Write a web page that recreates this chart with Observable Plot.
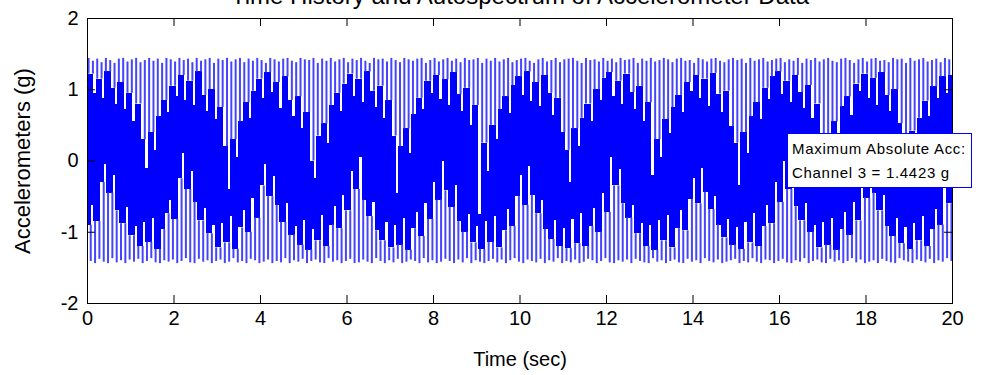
<!DOCTYPE html>
<html><head><meta charset="utf-8">
<script src="https://cdn.jsdelivr.net/npm/d3@7"></script>
<script src="https://cdn.jsdelivr.net/npm/@observablehq/plot@0.6"></script>
<style>
body{margin:0;background:#fff;}
#wrap{position:relative;width:1000px;height:375px;overflow:hidden;background:#fff;}
#note{position:absolute;left:787px;top:133px;width:185px;height:55px;border:1px solid #0000ff;background:#fff;
font-family:"Liberation Sans",Arial,sans-serif;font-size:15px;letter-spacing:0.7px;color:#000;padding:3px 0 0 4px;box-sizing:border-box;line-height:24px;white-space:nowrap;}
</style></head><body><div id="wrap"></div>
<script>
const title = "Time History and Autospectrum of Accelerometer Data";
const xLabel = "Time (sec)";
const yLabel = "Accelerometers (g)";
const noteLines = ["Maximum Absolute Acc:", "Channel 3 = 1.4423 g"];
const xTicks = [0,2,4,6,8,10,12,14,16,18,20];
const yTicks = [-2,-1,0,1,2];
const dt = 0.1; // seconds per bin

const peaks = [
1.44,1.40,1.43,1.38,1.44,1.41,1.37,1.43,1.44,1.39,
1.42,1.44,1.38,1.41,1.44,1.40,1.43,1.37,1.44,1.42,
1.39,1.44,1.41,1.43,1.38,1.44,1.40,1.42,1.44,1.37,
1.43,1.41,1.44,1.39,1.42,1.44,1.38,1.43,1.40,1.44,
1.41,1.37,1.44,1.42,1.39,1.43,1.44,1.40,1.38,1.44,
1.42,1.41,1.44,1.37,1.43,1.40,1.44,1.39,1.42,1.44,
1.38,1.43,1.41,1.44,1.40,1.37,1.44,1.42,1.43,1.39,
1.44,1.41,1.38,1.44,1.42,1.40,1.43,1.44,1.37,1.41,
1.44,1.39,1.42,1.44,1.40,1.43,1.38,1.44,1.41,1.42,
1.44,1.37,1.43,1.40,1.44,1.39,1.42,1.44,1.38,1.41,
1.43,1.44,1.40,1.37,1.42,1.44,1.39,1.41,1.44,1.38,
1.42,1.43,1.44,1.40,1.37,1.44,1.41,1.42,1.39,1.44,
1.40,1.43,1.38,1.44,1.41,1.42,1.44,1.37,1.43,1.40,
1.44,1.39,1.41,1.44,1.42,1.38,1.43,1.44,1.40,1.41,
1.37,1.44,1.42,1.39,1.43,1.44,1.40,1.38,1.42,1.44,
1.41,1.43,1.37,1.44,1.40,1.42,1.44,1.39,1.41,1.43,
1.44,1.38,1.42,1.40,1.44,1.37,1.43,1.41,1.44,1.39,
1.42,1.44,1.40,1.38,1.43,1.44,1.41,1.37,1.42,1.44,
1.39,1.43,1.44,1.40,1.41,1.38,1.44,1.42,1.43,1.37,
1.44,1.40,1.42,1.44,1.39,1.41,1.43,1.38,1.44,1.42];

const troughs = [
-1.41,-1.44,-1.38,-1.42,-1.44,-1.37,-1.43,-1.40,-1.44,-1.39,
-1.42,-1.38,-1.44,-1.41,-1.37,-1.43,-1.44,-1.40,-1.42,-1.39,
-1.44,-1.41,-1.37,-1.43,-1.44,-1.38,-1.42,-1.40,-1.44,-1.41,
-1.39,-1.44,-1.42,-1.37,-1.43,-1.41,-1.44,-1.38,-1.40,-1.44,
-1.42,-1.39,-1.44,-1.41,-1.43,-1.37,-1.44,-1.40,-1.42,-1.38,
-1.44,-1.41,-1.39,-1.43,-1.44,-1.37,-1.42,-1.40,-1.44,-1.41,
-1.38,-1.44,-1.43,-1.39,-1.42,-1.44,-1.37,-1.41,-1.44,-1.40,
-1.43,-1.38,-1.44,-1.42,-1.39,-1.41,-1.44,-1.37,-1.43,-1.40,
-1.44,-1.42,-1.38,-1.41,-1.44,-1.39,-1.43,-1.37,-1.44,-1.40,
-1.42,-1.44,-1.41,-1.38,-1.43,-1.39,-1.44,-1.40,-1.37,-1.42,
-1.44,-1.39,-1.41,-1.43,-1.38,-1.44,-1.40,-1.42,-1.37,-1.44,
-1.41,-1.43,-1.39,-1.44,-1.42,-1.38,-1.40,-1.44,-1.41,-1.37,
-1.43,-1.44,-1.40,-1.42,-1.39,-1.44,-1.38,-1.41,-1.43,-1.44,
-1.37,-1.42,-1.40,-1.44,-1.41,-1.39,-1.43,-1.44,-1.38,-1.42,
-1.40,-1.44,-1.37,-1.41,-1.43,-1.39,-1.44,-1.42,-1.40,-1.38,
-1.44,-1.41,-1.43,-1.37,-1.42,-1.44,-1.39,-1.40,-1.44,-1.41,
-1.38,-1.43,-1.44,-1.40,-1.42,-1.37,-1.44,-1.41,-1.39,-1.43,
-1.44,-1.38,-1.42,-1.40,-1.44,-1.41,-1.37,-1.43,-1.39,-1.44,
-1.42,-1.40,-1.44,-1.38,-1.41,-1.43,-1.44,-1.37,-1.40,-1.42,
-1.44,-1.39,-1.41,-1.43,-1.38,-1.44,-1.40,-1.42,-1.37,-1.41];

// level the white notches reach down from the top (between upper strokes)
const topNotch = [
1.22,0.95,1.15,0.88,1.25,1.02,0.80,1.10,0.72,0.95,
0.55,0.80,0.30,-0.10,0.40,0.15,0.62,0.85,0.68,1.05,
0.90,1.20,0.85,1.12,0.78,1.25,0.92,0.70,1.00,0.58,
0.75,0.20,-0.40,0.30,0.05,0.55,0.82,0.60,0.98,1.15,
0.88,1.24,0.96,1.10,0.74,1.18,0.85,0.62,0.90,0.45,
0.68,0.00,-0.25,0.35,0.52,0.25,0.78,0.95,0.70,1.08,
1.22,0.90,1.15,0.82,1.25,0.98,0.75,1.05,0.60,0.85,
0.35,-0.45,0.20,0.45,0.10,0.65,0.88,0.72,1.12,0.95,
1.20,0.86,1.14,0.78,1.24,0.93,0.70,1.02,0.50,0.78,
-0.75,0.25,-0.15,0.50,0.30,0.72,0.90,0.66,1.06,1.18,
0.92,1.25,0.84,1.10,0.76,1.20,0.95,0.64,0.88,0.40,
0.15,-0.30,0.45,0.20,0.60,0.80,0.55,1.00,0.85,1.16,
1.24,0.90,1.12,0.80,1.22,0.96,0.72,1.04,0.56,0.82,
-0.20,0.30,0.05,0.58,0.38,0.75,0.92,0.68,1.10,0.98,
1.20,0.88,1.15,0.76,1.23,0.94,0.68,0.98,0.48,0.25,
-0.35,0.40,0.10,0.62,0.82,0.58,1.02,0.86,1.18,1.25,
0.94,1.12,0.82,1.20,0.96,0.74,1.06,0.60,0.80,-0.25,
0.32,0.00,0.55,0.35,0.76,0.90,0.64,1.08,0.97,1.22,
0.88,1.16,0.78,1.24,0.92,0.70,1.00,0.52,0.30,-0.30,
0.42,0.12,0.60,0.84,0.62,1.04,0.88,1.18,0.95,1.20];

// level the white notches reach up from the bottom (between lower strokes)
const botNotch = [
-0.90,-0.62,-0.85,-0.30,-0.05,-0.45,-0.20,-0.70,-0.88,-0.65,
-1.05,-0.92,-1.20,-0.86,-1.14,-0.80,-1.24,-0.96,-0.74,-0.55,
-0.82,-0.25,0.10,-0.40,-0.15,-0.58,-0.84,-0.66,-1.02,-0.90,
-1.22,-0.88,-1.15,-0.78,-1.24,-0.94,-0.70,-1.00,-0.52,-0.80,
-0.35,-0.05,-0.50,-0.22,-0.62,-0.86,-0.60,-1.04,-0.92,-1.18,
-0.84,-1.25,-0.96,-1.12,-0.76,-1.20,-0.90,-0.64,-0.95,-0.48,
-0.70,-0.15,-0.40,0.05,-0.55,-0.78,-0.58,-0.98,-1.12,-0.86,
-1.22,-0.90,-1.18,-0.80,-1.25,-0.95,-0.72,-1.06,-0.60,-0.82,
-0.30,-0.55,0.00,-0.42,-0.65,-0.35,-0.85,-1.00,-0.75,-1.15,
-0.92,-1.24,-0.85,-1.14,-0.78,-1.22,-0.98,-0.68,-0.92,-0.50,
-0.20,-0.62,-0.08,-0.48,-0.74,-0.56,-0.96,-1.10,-0.84,-1.20,
-0.95,-1.23,-0.82,-1.16,-0.74,-1.20,-0.92,-0.66,-1.00,-0.45,
-0.72,0.05,-0.35,-0.12,-0.60,-0.80,-0.62,-1.02,-0.88,-1.20,
-0.90,-1.25,-0.84,-1.12,-0.76,-1.22,-0.95,-0.70,-0.98,-0.54,
-0.25,-0.60,-0.10,-0.44,-0.68,-0.50,-0.90,-1.08,-0.82,-1.18,
-0.94,-1.24,-0.86,-1.15,-0.74,-1.20,-0.92,-0.62,-0.88,-0.30,
-0.58,0.00,-0.40,-0.18,-0.64,-0.84,-0.60,-1.00,-0.90,-1.22,
-0.86,-1.18,-0.80,-1.25,-0.96,-0.72,-1.04,-0.58,-0.84,-0.20,
-0.52,-0.05,-0.45,-0.70,-0.48,-0.92,-1.06,-0.80,-1.16,-0.94,
-1.24,-0.88,-1.12,-0.78,-1.20,-0.96,-0.68,-0.90,-0.35,-0.60];

const W = 1000, H = 375, mL = 87, mR = 48, mT = 18, mB = 72;
const n = peaks.length;
const bins = peaks.map((p, i) => {
  const t = i * dt;
  return {
    t0: t, tm: t + dt / 2, t1: t + dt, xa: t + dt / 4, xb: t + 3 * dt / 4,
    p, q: troughs[i], u: topNotch[i], w: botNotch[i],
    top1: Math.max(topNotch[i], i > 0 ? topNotch[i - 1] : topNotch[i]),
    bot2: Math.min(botNotch[i], i < n - 1 ? botNotch[i + 1] : botNotch[i])
  };
});

const xDom = [0, 20], yDom = [-2, 2];
const tickPx = 8;
const tlx = tickPx * (xDom[1] - xDom[0]) / (W - mL - mR);
const tly = tickPx * (yDom[1] - yDom[0]) / (H - mT - mB);
const fmt = d => String(d);
const font = "'Liberation Sans', Arial, sans-serif";

const chart = Plot.plot({
  width: W, height: H, marginLeft: mL, marginRight: mR, marginTop: mT, marginBottom: mB,
  x: {domain: xDom}, y: {domain: yDom},
  style: {fontFamily: font, fontSize: "20px", color: "#000", background: "#fff", overflow: "visible"},
  marks: [
    Plot.rect(bins, {x1: "t0", x2: "tm", y1: "w", y2: "top1", fill: "#0000ff", shapeRendering: "crispEdges"}),
    Plot.rect(bins, {x1: "tm", x2: "t1", y1: "bot2", y2: "u", fill: "#0000ff", shapeRendering: "crispEdges"}),
    Plot.ruleX(bins, {x: "xa", y1: "top1", y2: "p", stroke: "#4545ff", strokeWidth: 2}),
    Plot.ruleX(bins, {x: "xb", y1: "q", y2: "bot2", stroke: "#4545ff", strokeWidth: 2}),
    Plot.frame({stroke: "#000", strokeWidth: 1}),
    Plot.ruleX(xTicks, {x: d => d, y1: yDom[0], y2: yDom[0] + tly, stroke: "#000"}),
    Plot.ruleX(xTicks, {x: d => d, y1: yDom[1] - tly, y2: yDom[1], stroke: "#000"}),
    Plot.ruleY(yTicks, {y: d => d, x1: xDom[0], x2: xDom[0] + tlx, stroke: "#000"}),
    Plot.ruleY(yTicks, {y: d => d, x1: xDom[1] - tlx, x2: xDom[1], stroke: "#000"}),
    Plot.axisX({ticks: xTicks, tickSize: 0, tickPadding: 7, tickFormat: fmt, label: xLabel, labelAnchor: "center", labelArrow: "none", labelOffset: 62, fontSize: 20}),
    Plot.axisY({ticks: yTicks, tickSize: 0, tickPadding: 9, tickFormat: fmt, label: null, fontSize: 20}),
    Plot.text([yLabel], {text: d => d, frameAnchor: "left", textAnchor: "middle", dx: -65, rotate: -90, fontSize: 22, fill: "#000"}),
    Plot.text([title], {text: d => d, frameAnchor: "top", dy: -15, lineAnchor: "bottom", fontSize: 24, fill: "#000"})
  ]
});
const wrap = document.getElementById("wrap");
wrap.appendChild(chart);
const note = document.createElement("div");
note.id = "note";
note.innerHTML = noteLines.map(s => `<div>${s}</div>`).join("");
wrap.appendChild(note);
</script></body></html>
